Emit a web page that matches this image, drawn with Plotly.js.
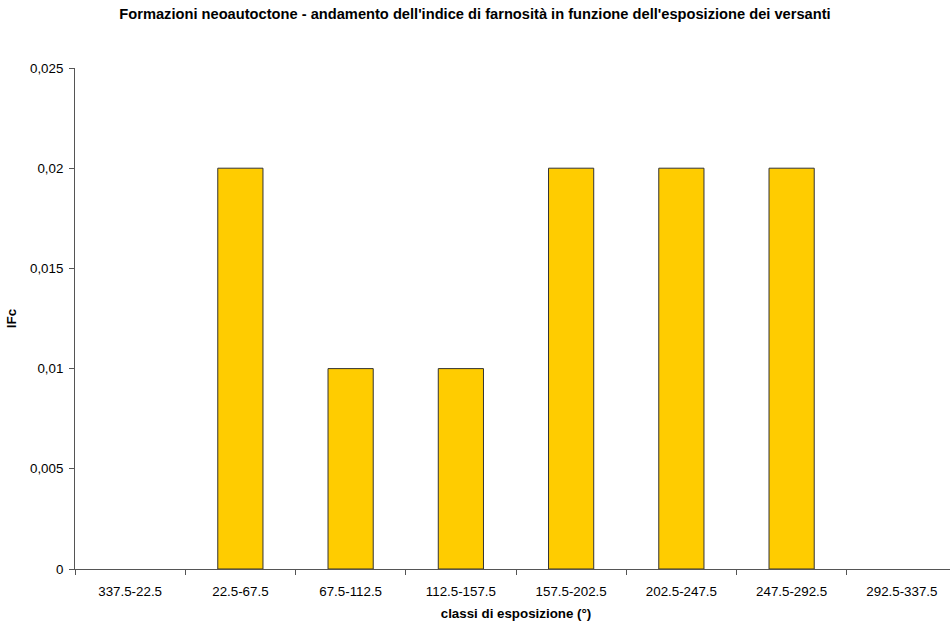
<!DOCTYPE html>
<html>
<head>
<meta charset="utf-8">
<script src="https://cdn.plot.ly/plotly-3.0.1.min.js"></script>
<style>
  html, body { margin: 0; padding: 0; overflow: hidden; background: #fff; }
  #chart { width: 958px; height: 624px; }
</style>
</head>
<body>
<div id="chart"></div>
<script>
// Exposure classes (degrees) and the IFc index for each
const classes = ["337.5-22.5", "22.5-67.5", "67.5-112.5", "112.5-157.5", "157.5-202.5", "202.5-247.5", "247.5-292.5", "292.5-337.5"];
const ifc = [0, 0.02, 0.01, 0.01, 0.02, 0.02, 0.02, 0];
const yTicks = [0, 0.005, 0.01, 0.015, 0.02, 0.025];
const yTickText = ["0", "0,005", "0,01", "0,015", "0,02", "0,025"];

const font = "Liberation Sans, Arial, sans-serif";

// empty classes get no outline so nothing shows on the baseline
const outlineWidths = ifc.map(v => (v === 0 ? 0 : 1));

Plotly.newPlot("chart", [{
  type: "bar",
  x: classes,
  y: ifc,
  marker: { color: "#FFCC00", line: { color: "#333333", width: outlineWidths } },
  hoverinfo: "x+y"
}], {
  width: 958,
  height: 624,
  paper_bgcolor: "#ffffff",
  plot_bgcolor: "#ffffff",
  margin: { l: 75, r: 1, t: 68, b: 55 },
  bargap: 0.59,
  showlegend: false,
  title: {
    text: "<b>Formazioni neoautoctone - andamento dell'indice di farnosità in funzione dell'esposizione dei versanti</b>",
    font: { family: font, size: 14.67, color: "#000" },
    x: 475 / 958, xanchor: "center", xref: "container",
    y: 1 - 14 / 624, yanchor: "middle", yref: "container"
  },
  xaxis: {
    type: "category",
    tickson: "boundaries",
    ticks: "outside",
    ticklen: 5,
    tickcolor: "#555",
    ticklabelstandoff: 10,
    showline: true,
    linecolor: "#555",
    linewidth: 1,
    showgrid: false,
    zeroline: false,
    tickfont: { family: font, size: 13.33, color: "#000" },
    title: { text: "<b>classi di esposizione (°)</b>", font: { family: font, size: 13.33, color: "#000" }, standoff: 10 }
  },
  yaxis: {
    range: [0, 0.025],
    tickvals: yTicks,
    ticktext: yTickText,
    ticks: "outside",
    ticklen: 5,
    tickcolor: "#555",
    ticklabelstandoff: 3,
    showline: true,
    linecolor: "#555",
    linewidth: 1,
    showgrid: false,
    zeroline: false,
    tickfont: { family: font, size: 13.33, color: "#000" },
    title: { text: "<b>IFc</b>", font: { family: font, size: 13.33, color: "#000" }, standoff: 10 }
  }
}, { displayModeBar: false, staticPlot: true });
</script>
</body>
</html>
